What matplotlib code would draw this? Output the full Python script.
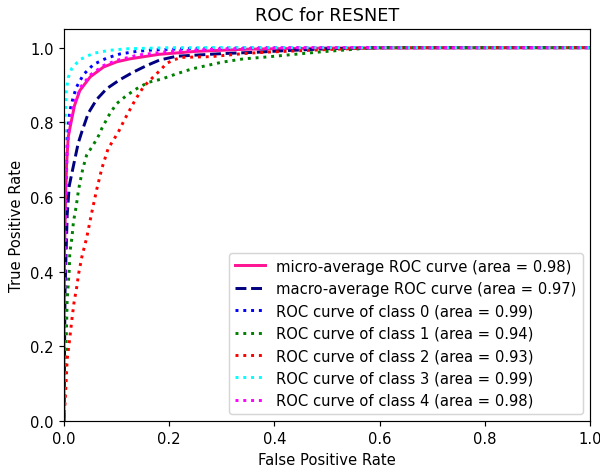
import matplotlib
matplotlib.use("Agg")
import matplotlib.pyplot as plt

title = "ROC for RESNET"

micro_fpr = [0, 0.0, 0.001, 0.003, 0.005, 0.008, 0.012, 0.02, 0.03, 0.05, 0.075, 0.1, 0.125, 0.18, 0.25, 0.35, 0.5, 1.0]
micro_tpr = [0, 0.2, 0.45, 0.6, 0.69, 0.76, 0.79, 0.845, 0.885, 0.922, 0.948, 0.962, 0.97, 0.982, 0.99, 0.996, 0.999, 1.0]

macro_fpr = [0, 0.002, 0.006, 0.01, 0.015, 0.021, 0.027, 0.034, 0.046, 0.062, 0.081, 0.106, 0.131, 0.157, 0.182, 0.214, 0.25, 0.3, 0.37, 0.42, 0.5, 0.6, 1.0]
macro_tpr = [0, 0.35, 0.55, 0.63, 0.664, 0.704, 0.744, 0.775, 0.824, 0.861, 0.89, 0.914, 0.934, 0.952, 0.967, 0.977, 0.98, 0.984, 0.988, 0.992, 0.997, 1.0, 1.0]

c0_fpr = [0, 0.001, 0.003, 0.005, 0.008, 0.011, 0.018, 0.024, 0.037, 0.056, 0.081, 0.106, 0.138, 0.169, 0.25, 0.4, 1.0]
c0_tpr = [0, 0.3, 0.6, 0.72, 0.79, 0.83, 0.87, 0.895, 0.928, 0.955, 0.972, 0.983, 0.99, 0.994, 0.998, 1.0, 1.0]

c1_fpr = [0, 0.001, 0.003, 0.005, 0.006, 0.008, 0.01, 0.011, 0.015, 0.018, 0.023, 0.027, 0.03, 0.036, 0.043, 0.053, 0.061, 0.068, 0.072, 0.087, 0.1, 0.119, 0.138, 0.16, 0.186, 0.214, 0.243, 0.271, 0.3, 0.341, 0.385, 0.43, 0.49, 0.537, 0.569, 0.62, 1.0]
c1_tpr = [0, 0.05, 0.15, 0.264, 0.325, 0.365, 0.405, 0.45, 0.49, 0.534, 0.573, 0.613, 0.637, 0.677, 0.712, 0.734, 0.752, 0.77, 0.784, 0.823, 0.85, 0.872, 0.89, 0.907, 0.916, 0.93, 0.943, 0.952, 0.961, 0.97, 0.975, 0.981, 0.989, 0.994, 0.998, 1.0, 1.0]

c2_fpr = [0, 0.002, 0.004, 0.006, 0.01, 0.015, 0.019, 0.024, 0.028, 0.034, 0.043, 0.053, 0.062, 0.072, 0.084, 0.103, 0.116, 0.135, 0.151, 0.165, 0.176, 0.186, 0.195, 0.21, 0.224, 0.28, 0.34, 0.385, 0.42, 0.5, 0.6, 1.0]
c2_tpr = [0, 0.05, 0.104, 0.165, 0.21, 0.272, 0.317, 0.357, 0.396, 0.44, 0.49, 0.56, 0.619, 0.677, 0.73, 0.773, 0.81, 0.859, 0.895, 0.915, 0.93, 0.944, 0.958, 0.968, 0.974, 0.976, 0.984, 0.988, 0.99, 0.995, 1.0, 1.0]

c3_fpr = [0, 0.0, 0.001, 0.002, 0.004, 0.008, 0.015, 0.03, 0.056, 0.087, 0.12, 0.2, 1.0]
c3_tpr = [0, 0.3, 0.6, 0.8, 0.88, 0.92, 0.945, 0.968, 0.985, 0.993, 0.997, 1.0, 1.0]

c4_fpr = [0, 0.001, 0.003, 0.006, 0.01, 0.015, 0.022, 0.033, 0.05, 0.075, 0.1, 0.14, 0.2, 0.3, 0.45, 1.0]
c4_tpr = [0, 0.3, 0.58, 0.72, 0.79, 0.83, 0.86, 0.897, 0.927, 0.952, 0.966, 0.98, 0.99, 0.997, 1.0, 1.0]

class_aucs = [0.99, 0.94, 0.93, 0.99, 0.98]
class_colors = ["blue", "green", "red", "cyan", "magenta"]
micro_auc = 0.98
macro_auc = 0.97

DPI = 106
fig = plt.figure(figsize=(600 / DPI, 470 / DPI), dpi=DPI)
ax = fig.add_axes([64/600, 1-422/470, 526/600, 392/470])

ax.plot(micro_fpr, micro_tpr, color="deeppink", linestyle="-", lw=2,
        label="micro-average ROC curve (area = {0:0.2f})".format(micro_auc))
ax.plot(macro_fpr, macro_tpr, color="navy", linestyle="--", lw=2,
        label="macro-average ROC curve (area = {0:0.2f})".format(macro_auc))

class_fprs = [c0_fpr, c1_fpr, c2_fpr, c3_fpr, c4_fpr]
class_tprs = [c0_tpr, c1_tpr, c2_tpr, c3_tpr, c4_tpr]
for i in range(5):
    ax.plot(class_fprs[i], class_tprs[i], color=class_colors[i], linestyle=":", lw=2,
            label="ROC curve of class {0} (area = {1:0.2f})".format(i, class_aucs[i]))

ax.set_xlim(0.0, 1.0)
ax.set_ylim(0.0, 1.05)
ax.set_xlabel("False Positive Rate")
ax.set_ylabel("True Positive Rate")
ax.set_title(title)
ax.legend(loc="lower right")

fig.savefig("out.png", dpi=DPI)
